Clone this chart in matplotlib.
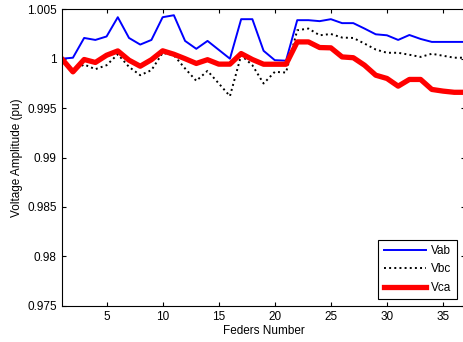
import matplotlib
matplotlib.use("Agg")
import matplotlib.pyplot as plt

# 読み取った値
feeders = list(range(1, 38))
vab = [1.0000, 1.0001, 1.0021, 1.0019, 1.00225, 1.0042, 1.0021, 1.00143, 1.0019, 1.0042,
       1.0044, 1.0018, 1.0010, 1.0018, 1.0009, 1.0000, 1.0040, 1.0040, 1.0008, 0.99985,
       0.9998, 1.0039, 1.0039, 1.0038, 1.0040, 1.0036, 1.0036, 1.00305, 1.00247, 1.00237,
       1.0019, 1.0024, 1.0020, 1.0017, 1.0017, 1.0017, 1.0017]
vbc = [1.0000, 0.99884, 0.99941, 0.99894, 0.99934, 1.00045, 0.99917, 0.99833, 0.99884, 1.00059,
       1.00035, 0.99901, 0.99776, 0.99877, 0.99750, 0.99621, 1.00035, 0.99934, 0.99749, 0.99867,
       0.9986, 1.00288, 1.00305, 1.00237, 1.0025, 1.00214, 1.0021, 1.00153, 1.00093, 1.0006,
       1.0006, 1.0004, 1.00018, 1.0005, 1.0003, 1.0001, 1.0001]
vca = [1.0000, 0.99867, 0.99992, 0.99962, 1.00035, 1.00079, 0.99985, 0.99924, 0.9999, 1.0008,
       1.00045, 1.0000, 0.99952, 0.9999, 0.99945, 0.99945, 1.00052, 0.99992, 0.99944, 0.99944,
       0.99944, 1.0017, 1.0017, 1.00113, 1.0011, 1.00018, 1.0001, 0.99934, 0.99833, 0.9980,
       0.99722, 0.9979, 0.9979, 0.99689, 0.99672, 0.9966, 0.9966]

plt.rcParams['font.family'] = ['Liberation Sans', 'DejaVu Sans']

fig = plt.figure(figsize=(4.63, 3.42), dpi=100)
ax = fig.add_axes([0.1333, 0.1061, 0.872, 0.8667])

ax.plot(feeders, vab, color='#0000ff', linewidth=1.4, label='Vab')
ax.plot(feeders, vbc, color='black', linewidth=1.4, linestyle=':', label='Vbc')
ax.plot(feeders, vca, color='#ff0000', linewidth=3.8, label='Vca')

ax.set_xlim(1, 37)
ax.set_ylim(0.975, 1.005)
ax.set_xticks([5, 10, 15, 20, 25, 30, 35])
ax.set_yticks([0.975, 0.98, 0.985, 0.99, 0.995, 1.0, 1.005])
ax.set_yticklabels(['0.975', '0.98', '0.985', '0.99', '0.995', '1', '1.005'])
ax.tick_params(direction='in', top=True, right=True, labelsize=8.5, length=3, width=0.8)
for s in ax.spines.values():
    s.set_linewidth(0.8)

ax.set_xlabel('Feders Number', fontsize=8.5, labelpad=2)
ax.set_ylabel('Voltage Amplitude (pu)', fontsize=8.5, labelpad=3)

leg = ax.legend(loc='lower right', bbox_to_anchor=(0.978, 0.022), fontsize=8.5,
                fancybox=False, framealpha=1, edgecolor='black', handlelength=3.6,
                borderpad=0.45, labelspacing=0.55, handletextpad=0.4, borderaxespad=0)
leg.get_frame().set_linewidth(0.8)

fig.savefig('out.png', dpi=100)
plt.close()
